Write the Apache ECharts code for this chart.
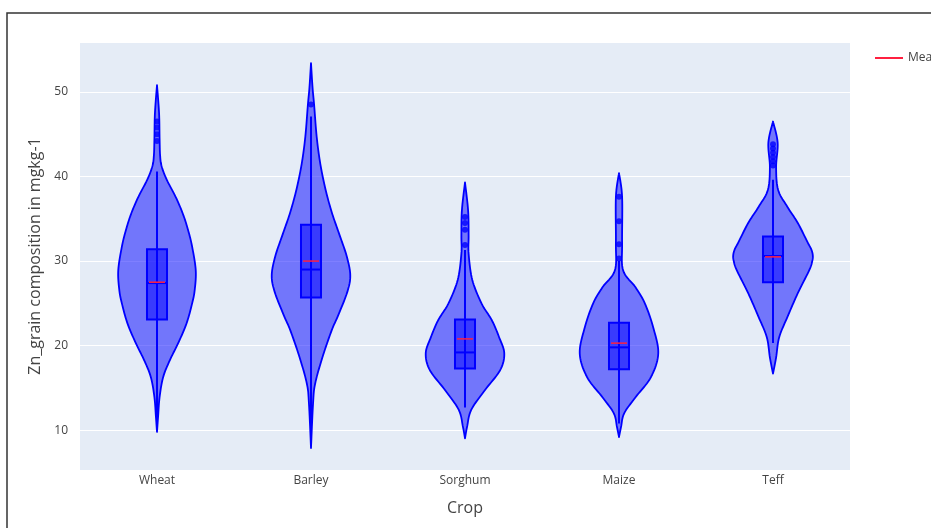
<!DOCTYPE html>
<html>
<head>
<meta charset="utf-8">
<script src="https://cdn.jsdelivr.net/npm/echarts@6/dist/echarts.min.js"></script>
<style>
  html, body { margin: 0; padding: 0; background: #fff; }
  #main { width: 931px; height: 528px; }
</style>
</head>
<body>
<div id="main"></div>
<script>
// crops on the x axis
const crops = ['Wheat', 'Barley', 'Sorghum', 'Maize', 'Teff']

// violin outlines: [value, density] pairs from top tip to bottom tip
const violinWheat = [[50.8, 0], [47.5, 2], [44.5, 2.5], [42.5, 3], [41.2, 4.5], [39.6, 9.5], [37.6, 18], [35.6, 25], [33.7, 30], [31.7, 34], [28.9, 37.5], [26.6, 36.5], [25.0, 34], [22.6, 28.5], [20.3, 20.5], [18.3, 12.5], [16.3, 6], [13.9, 2.5], [11.5, 1], [9.8, 0]]
const violinBarley = [[53.4, 0], [50.5, 1.5], [48.5, 3], [44.7, 5.5], [41.5, 9], [38.5, 14], [35.8, 20], [33.3, 27], [30.6, 34.5], [28.3, 38], [26.3, 35], [23.5, 26], [21.8, 20], [18.6, 11], [15.5, 4], [13.2, 2], [7.9, 0]]
const violinSorghum = [[39.3, 0], [36.0, 3], [33.0, 3.5], [30.9, 3.5], [27.8, 7], [25.0, 16], [23.0, 26], [21.0, 33], [19.1, 38], [17.1, 34], [14.7, 19], [12.4, 6], [10.4, 2], [9.05, 0]]
const violinMaize = [[40.4, 0], [37.6, 3], [32.1, 3], [28.9, 4], [26.9, 16], [25.0, 25], [22.2, 33], [19.1, 38], [16.3, 31], [13.9, 16], [12.0, 5], [10.4, 2], [9.2, 0]]
const violinTeff = [[46.5, 0], [44.0, 4.5], [41.1, 3], [38.4, 5], [36.4, 14], [34.5, 24], [32.1, 34], [31.4, 37], [30.7, 38.5], [30.0, 38], [28.9, 35], [26.2, 24], [23.4, 14], [21.0, 6], [18.6, 3], [16.7, 0]]
const violins = [violinWheat, violinBarley, violinSorghum, violinMaize, violinTeff]

// box statistics
const lowerWhisker = [11.0, 9.0, 12.7, 10.8, 20.3]
const q1 = [23.1, 25.7, 17.3, 17.2, 27.5]
const median = [27.4, 29.0, 19.2, 19.8, 30.6]
const q3 = [31.4, 34.3, 23.1, 22.7, 32.9]
const upperWhisker = [40.6, 47.1, 31.3, 30.0, 39.6]
const means = [27.5, 30.0, 20.8, 20.3, 30.5]

// outlier points
const outWheat = [46.5, 45.8, 45.0, 44.2]
const outBarley = [48.5]
const outSorghum = [35.2, 34.5, 33.7, 31.9]
const outMaize = [37.6, 34.7, 32.0, 30.3]
const outTeff = [43.8, 43.3, 42.8, 42.3, 41.8, 41.3]
const outliers = [outWheat, outBarley, outSorghum, outMaize, outTeff]

const BLUE = '#0000ff'
const MAX_DENS = 38

var chartDom = document.getElementById('main')
var myChart = echarts.init(chartDom)

const outlierData = []
outliers.forEach((list, i) => list.forEach((v) => outlierData.push([i, v])))

// catmull-rom through the outline points so the edge is a smooth curve
const smoothSide = (pts) => {
  const out = []
  for (let k = 0; k < pts.length - 1; k++) {
    const p0 = pts[Math.max(k - 1, 0)]
    const p1 = pts[k]
    const p2 = pts[k + 1]
    const p3 = pts[Math.min(k + 2, pts.length - 1)]
    for (let s = 0; s < 10; s++) {
      const t = s / 10
      const t2 = t * t
      const t3 = t2 * t
      const f = (a, b, c, d) =>
        0.5 * (2 * b + (-a + c) * t + (2 * a - 5 * b + 4 * c - d) * t2 + (-a + 3 * b - 3 * c + d) * t3)
      out.push([Math.max(0, f(p0[0], p1[0], p2[0], p3[0])), f(p0[1], p1[1], p2[1], p3[1])])
    }
  }
  out.push(pts[pts.length - 1])
  return out
}

const renderViolin = (params, api) => {
  const i = params.dataIndex
  const band = api.size([1, 0])[0]
  const maxHalf = band * 0.255
  const boxHalf = band * 0.065
  const cx = api.coord([i, 0])[0]
  const y = (v) => api.coord([i, v])[1]
  const side = smoothSide(violins[i].map((p) => [(p[1] / MAX_DENS) * maxHalf, y(p[0])]))
  const right = side.map((p) => [cx + p[0], p[1]])
  const left = side.slice().reverse().map((p) => [cx - p[0], p[1]])
  return {
    type: 'group',
    children: [
      {
        type: 'polygon',
        shape: { points: right.concat(left.slice(1, -1)) },
        style: { fill: 'rgba(0,0,255,0.5)', stroke: BLUE, lineWidth: 1.8, lineJoin: 'round' }
      },
      {
        type: 'line',
        shape: { x1: cx, y1: y(lowerWhisker[i]), x2: cx, y2: y(upperWhisker[i]) },
        style: { stroke: BLUE, lineWidth: 2 }
      },
      {
        type: 'rect',
        shape: { x: cx - boxHalf, y: y(q3[i]), width: boxHalf * 2, height: y(q1[i]) - y(q3[i]) },
        style: { fill: 'rgba(0,0,255,0.5)', stroke: BLUE, lineWidth: 2 }
      },
      {
        type: 'line',
        shape: { x1: cx - boxHalf, y1: y(median[i]), x2: cx + boxHalf, y2: y(median[i]) },
        style: { stroke: BLUE, lineWidth: 2 }
      }
    ]
  }
}

const renderMean = (params, api) => {
  const i = params.dataIndex
  const band = api.size([1, 0])[0]
  const boxHalf = band * 0.065
  const p = api.coord([i, means[i]])
  return {
    type: 'line',
    shape: { x1: p[0] - boxHalf + 2, y1: p[1], x2: p[0] + boxHalf - 2, y2: p[1] },
    style: { stroke: '#ff2040', lineWidth: 1.5 }
  }
}

var option = {
  animation: false,
  textStyle: { fontFamily: 'Open Sans' },
  graphic: [
    {
      type: 'rect',
      shape: { x: 7, y: 13, width: 1200, height: 1000 },
      style: { fill: null, stroke: '#333', lineWidth: 1.5 },
      silent: true
    }
  ],
  grid: { left: 80, right: 81, top: 42, bottom: 58, backgroundColor: '#e5ecf6', show: true, borderWidth: 0 },
  legend: {
    left: 870,
    top: 47,
    itemWidth: 28,
    itemHeight: 2,
    textStyle: { color: '#444', fontSize: 12 },
    data: [{ name: 'Mean', icon: 'rect', itemStyle: { color: '#ff2040' } }]
  },
  xAxis: {
    type: 'category',
    data: crops,
    name: 'Crop',
    nameLocation: 'middle',
    nameGap: 30,
    nameTextStyle: { color: '#444', fontSize: 16 },
    axisLine: { show: false },
    axisTick: { show: false },
    axisLabel: { color: '#444', fontSize: 12, margin: 5 },
    splitLine: { show: false }
  },
  yAxis: {
    type: 'value',
    min: 5.3,
    max: 55.9,
    splitNumber: 5,
    name: 'Zn_grain composition in mgkg-1',
    nameLocation: 'middle',
    nameGap: 37,
    nameTextStyle: { color: '#444', fontSize: 16 },
    axisLine: { show: false },
    axisTick: { show: false },
    axisLabel: { color: '#444', fontSize: 12, margin: 12, showMinLabel: false, showMaxLabel: false },
    splitLine: { lineStyle: { color: '#fff', width: 1 } }
  },
  series: [
    {
      name: 'Violin',
      type: 'custom',
      renderItem: renderViolin,
      data: crops.map((c, i) => [i, median[i]]),
      z: 2
    },
    {
      name: 'Outliers',
      type: 'scatter',
      data: outlierData,
      symbolSize: 6,
      itemStyle: { color: BLUE },
      z: 3
    },
    {
      name: 'Mean',
      type: 'custom',
      renderItem: renderMean,
      data: crops.map((c, i) => [i, means[i]]),
      itemStyle: { color: '#ff2040' },
      z: 4
    }
  ]
}

option && myChart.setOption(option)
</script>
</body>
</html>
